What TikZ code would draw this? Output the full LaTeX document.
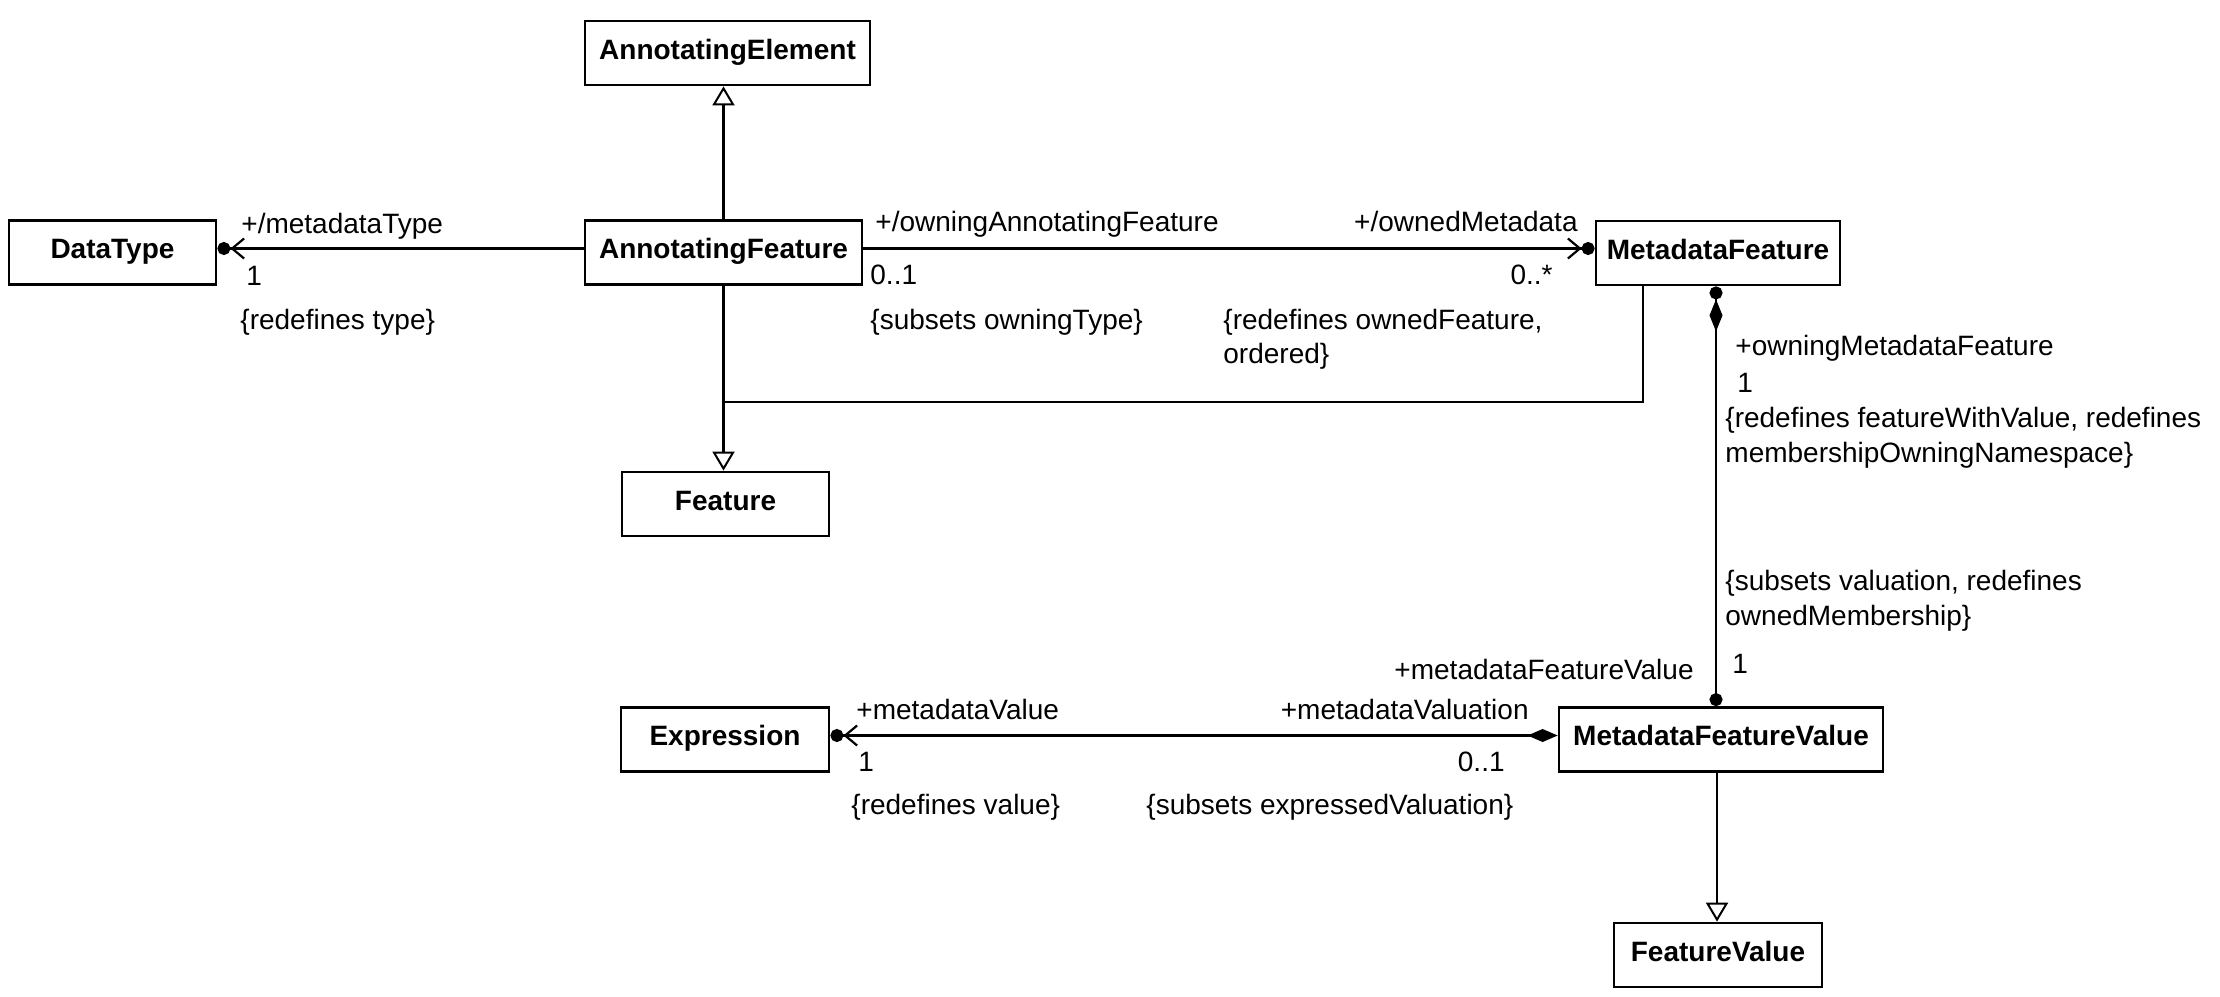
\documentclass[tikz,border=0pt]{standalone}
\usepackage{fontspec}
\setmainfont{Liberation Sans}
\usetikzlibrary{arrows.meta}
\begin{document}
\begin{tikzpicture}[x=0.5pt, y=-0.5pt,
  txt/.style={inner sep=0pt, font=\fontsize{14pt}{17pt}\selectfont},
  cls/.style={draw, line width=1.4pt, inner sep=0pt, minimum height=32pt,
    text height=19pt, text depth=13pt, font=\fontsize{14pt}{17pt}\selectfont\bfseries},
  conn/.style={line width=1.3pt},
  navdot/.style={-{Straight Barb[length=6pt,width=10pt,line width=1.1pt] Circle[length=6.5pt]}},
  gen/.style={-{Triangle[open,length=9.5pt,width=11pt,line width=1pt]}}
]
\useasboundingbox[fill=white] (0,0) rectangle (2220,996);

% classes
\node[cls, minimum width=142.5pt] (ae) at (727.5,53) {AnnotatingElement};
\node[cls, minimum width=103.5pt] (dt) at (112.5,252.5) {DataType};
\node[cls, minimum width=138.5pt] (af) at (723.5,252.5) {AnnotatingFeature};
\node[cls, minimum width=122pt] (mf) at (1718,253) {MetadataFeature};
\node[cls, minimum width=103.5pt] (ft) at (725.5,504) {Feature};
\node[cls, minimum width=104pt] (ex) at (725,739.5) {Expression};
\node[cls, minimum width=162pt] (mfv) at (1721,739.5) {MetadataFeatureValue};
\node[cls, minimum width=104pt] (fv) at (1718,955) {FeatureValue};
\coordinate (j) at (723.5,402);

% connectors
\draw[conn, navdot] ([yshift=2pt]af.west) -- ([yshift=2pt]af.west -| dt.east);
\draw[conn, navdot] ([yshift=2pt]af.east) -- ([yshift=2pt]af.east -| mf.west);
\draw[conn, gen] (af.north) -- (af.north |- ae.south);
\draw[conn, gen] (af.south) -- (af.south |- ft.north);
\draw[conn] ([xshift=-37.5pt]mf.south) |- (j);
\draw[conn, {Circle[length=6.5pt]}-{Diamond[length=16pt,width=6.5pt] Circle[length=6.5pt]}]
  ([xshift=-2.5pt]mfv.north) -- ([xshift=-2.5pt]mfv.north |- mf.south);
\draw[conn, {Circle[length=6.5pt] Straight Barb[length=6pt,width=10pt,line width=1.1pt]}-{Diamond[length=15pt,width=6.5pt]}]
  ([yshift=2pt]ex.east) -- ([yshift=2pt]ex.east -| mfv.west);
\draw[conn, gen] ([xshift=-2pt]mfv.south) -- ([xshift=-2pt]mfv.south |- fv.north);

% labels
\node[txt, anchor=base west] (l1) at (241,233) {+/metadataType};
\node[txt, anchor=base west] (l2) at (246,285) {1};
\node[txt, anchor=base west] (l3) at (240,329) {\{redefines type\}};
\node[txt, anchor=base west] (l4) at (875,231) {+/owningAnnotatingFeature};
\node[txt, anchor=base west] (l5) at (870,284) {0..1};
\node[txt, anchor=base west] (l6) at (870,329) {\{subsets owningType\}};
\node[txt, anchor=base east] (l7) at (1578,231) {+/ownedMetadata};
\node[txt, anchor=base east] (l8) at (1553,284) {0..*};
\node[txt, anchor=base west] (l9) at (1223,329) {\{redefines ownedFeature,};
\node[txt, anchor=base west] (l10) at (1223,363) {ordered\}};
\node[txt, anchor=base west] (l11) at (1735,355) {+owningMetadataFeature};
\node[txt, anchor=base west] (l12) at (1737,392) {1};
\node[txt, anchor=base west] (l13) at (1725,427) {\{redefines featureWithValue, redefines};
\node[txt, anchor=base west] (l14) at (1725,462) {membershipOwningNamespace\}};
\node[txt, anchor=base west] (l15) at (1725,590) {\{subsets valuation, redefines};
\node[txt, anchor=base west] (l16) at (1725,625) {ownedMembership\}};
\node[txt, anchor=base west] (l17) at (1732,673) {1};
\node[txt, anchor=base east] (l18) at (1694,679) {+metadataFeatureValue};
\node[txt, anchor=base east] (l19) at (1529,719) {+metadataValuation};
\node[txt, anchor=base east] (l20) at (1505,771) {0..1};
\node[txt, anchor=base west] (l21) at (1146,814) {\{subsets expressedValuation\}};
\node[txt, anchor=base west] (l22) at (856,719) {+metadataValue};
\node[txt, anchor=base west] (l23) at (858,771) {1};
\node[txt, anchor=base west] (l24) at (851,814) {\{redefines value\}};
\end{tikzpicture}
\end{document}
